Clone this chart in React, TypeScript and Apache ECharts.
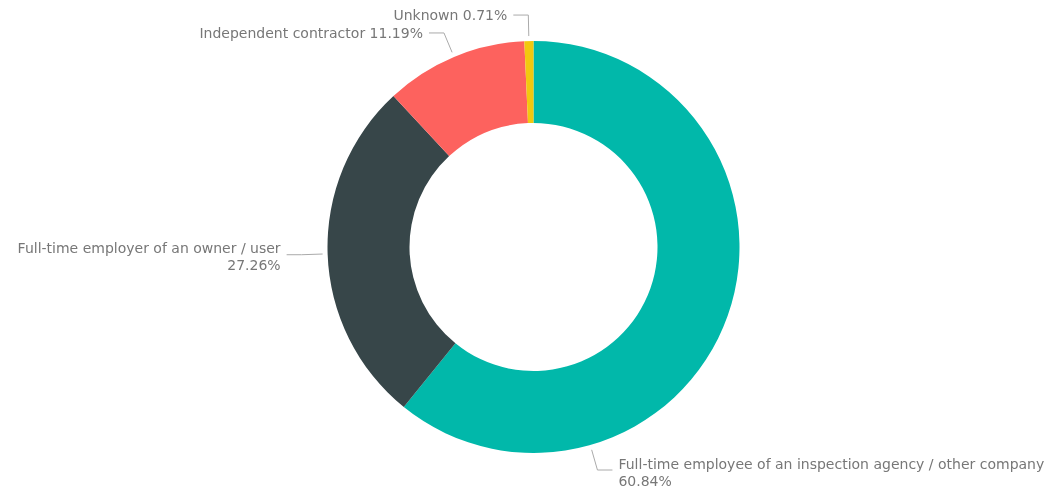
import React, { useEffect, useRef } from "react";
import * as echarts from "echarts";

const categories = [
  "Full-time employee of an inspection agency / other company",
  "Full-time employer of an owner / user",
  "Independent contractor",
  "Unknown",
];
const values = [60.84, 27.26, 11.19, 0.71];
const colors = ["#01B8AA", "#374649", "#FD625E", "#F2C80F"];
const twoLine = [true, true, false, false];

export default function App() {
  const ref = useRef<HTMLDivElement>(null);
  useEffect(() => {
    if (!ref.current) return;
    const chart = echarts.init(ref.current, undefined, { renderer: "svg" });
    const cx = 533.5, cy = 247, R = 206, r = 124;
    const total = values.reduce((a, b) => a + b, 0);
    const mids: number[] = [];
    let acc = 0;
    values.forEach((v) => {
      const start = 90 - (acc / total) * 360;
      acc += v;
      const end = 90 - (acc / total) * 360;
      mids.push((start + end) / 2);
    });
    // Teal label is placed near the bottom of its slice, as in the reference
    const anchorOverride: Record<number, number> = { 0: -74 };
    const gap = 5, len = 21, len2 = 15, textGap = 6;
    chart.setOption({
      animation: false,
      series: [
        {
          type: "pie",
          center: [cx, cy],
          radius: [r, R],
          startAngle: 90,
          clockwise: true,
          avoidLabelOverlap: false,
          data: categories.map((name, i) => ({
            name,
            value: values[i],
            itemStyle: { color: colors[i] },
            label: { formatter: twoLine[i] ? "{b}\n{d}%" : "{b} {d}%" },
          })),
          label: {
            show: true,
            position: "outside",
            fontFamily: "DejaVu Sans",
            fontSize: 14,
            lineHeight: 17,
            color: "#777777",
          },
          labelLine: {
            show: true,
            length: len,
            length2: len2,
            lineStyle: { color: "#aaaaaa", width: 1 },
          },
          labelLayout: (p: any) => {
            const i = p.dataIndex;
            const deg = anchorOverride[i] != null ? anchorOverride[i] : mids[i];
            const a = (deg * Math.PI) / 180;
            const c = Math.cos(a), s = Math.sin(a);
            const p1 = [cx + (R + gap) * c, cy - (R + gap) * s];
            const p2 = [cx + (R + gap + len) * c, cy - (R + gap + len) * s];
            const dir = c >= 0 ? 1 : -1;
            const p3 = [p2[0] + dir * len2, p2[1]];
            return {
              x: p3[0] + dir * textGap,
              y: p3[1] + (twoLine[i] ? 2 : 0),
              align: dir > 0 ? "left" : "right",
              verticalAlign: "middle",
              labelLinePoints: [p1, p2, p3],
            };
          },
        },
      ],
    });
    return () => chart.dispose();
  }, []);
  return (
    <div
      ref={ref}
      style={{ position: "fixed", left: 0, top: 0, width: 1052, height: 492 }}
    />
  );
}
